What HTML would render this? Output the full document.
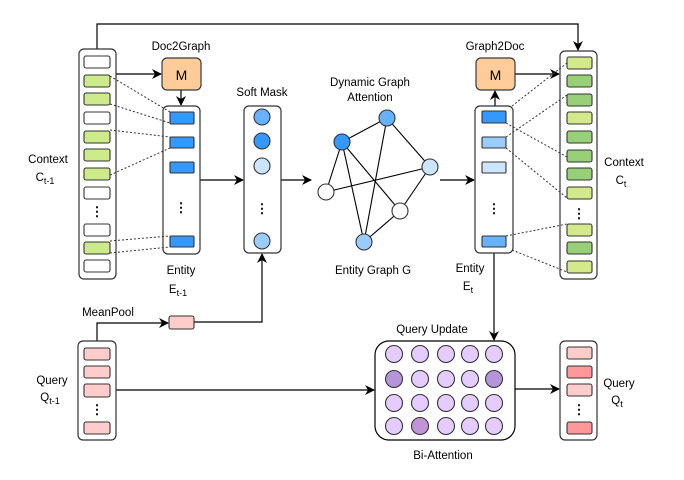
<!DOCTYPE html>
<html><head><meta charset="utf-8"><style>
html,body{margin:0;padding:0;background:#fff;}
svg{display:block;font-family:"Liberation Sans",Arial,sans-serif;}
</style></head><body>
<svg width="684" height="480" viewBox="0 0 684 480" xmlns="http://www.w3.org/2000/svg">
<defs>
<marker id="a" markerWidth="10" markerHeight="10" refX="9" refY="5" orient="auto" markerUnits="userSpaceOnUse">
<path d="M0,0 L10,5 L0,10 L3,5 Z" fill="#000"/>
</marker>
</defs>
<g fill="none" stroke="#000" stroke-width="1.2">
<polyline points="97,49 97,24 578,24 578,50" marker-end="url(#a)"/>
<line x1="110" y1="74" x2="161" y2="74" marker-end="url(#a)"/>
<line x1="181" y1="90" x2="181" y2="105" marker-end="url(#a)"/>
<line x1="200" y1="180" x2="243" y2="180" marker-end="url(#a)"/>
<line x1="281" y1="180" x2="311" y2="180" marker-end="url(#a)"/>
<line x1="440" y1="180" x2="474" y2="180" marker-end="url(#a)"/>
<line x1="495" y1="106" x2="495" y2="91" marker-end="url(#a)"/>
<line x1="515" y1="74" x2="559" y2="74" marker-end="url(#a)"/>
<polyline points="97,341 97,323 168,323" marker-end="url(#a)"/>
<polyline points="194,322 262,322 262,254" marker-end="url(#a)"/>
<line x1="116" y1="390" x2="374" y2="390" marker-end="url(#a)"/>
<line x1="494" y1="253" x2="494" y2="340" marker-end="url(#a)"/>
<line x1="515" y1="389" x2="559" y2="389" marker-end="url(#a)"/>
</g>
<rect x="79" y="49" width="37" height="230" rx="5" fill="#fff" stroke="#333" stroke-width="1.2"/>
<g stroke="#333" stroke-width="1.1">
<rect x="84" y="56" width="26" height="12" rx="2" fill="#fff"/>
<rect x="84" y="75" width="26" height="12" rx="2" fill="#cdeb8b"/>
<rect x="84" y="93" width="26" height="12" rx="2" fill="#cdeb8b"/>
<rect x="84" y="112" width="26" height="12" rx="2" fill="#fff"/>
<rect x="84" y="131" width="26" height="12" rx="2" fill="#cdeb8b"/>
<rect x="84" y="149" width="26" height="12" rx="2" fill="#cdeb8b"/>
<rect x="84" y="168" width="26" height="12" rx="2" fill="#cdeb8b"/>
<rect x="84" y="187" width="26" height="12" rx="2" fill="#fff"/>
<rect x="84" y="224" width="26" height="12" rx="2" fill="#fff"/>
<rect x="84" y="242" width="26" height="12" rx="2" fill="#cdeb8b"/>
<rect x="84" y="260" width="26" height="12" rx="2" fill="#fff"/>
</g>
<rect x="162" y="58" width="39" height="32" rx="5" fill="#ffcc99" stroke="#36393d" stroke-width="1.2"/>
<text x="181.5" y="80" font-size="14" text-anchor="middle">M</text>
<rect x="476" y="58" width="39" height="32" rx="5" fill="#ffcc99" stroke="#36393d" stroke-width="1.2"/>
<text x="495.5" y="80" font-size="14" text-anchor="middle">M</text>
<rect x="163" y="106" width="37" height="148" rx="5" fill="#fff" stroke="#333" stroke-width="1.2"/>
<g stroke="#333" stroke-width="1.1" fill="#3399ff">
<rect x="170" y="112" width="24" height="12" rx="1"/>
<rect x="170" y="137" width="24" height="11" rx="1"/>
<rect x="170" y="162" width="24" height="11" rx="1"/>
<rect x="170" y="236" width="24" height="11" rx="1"/>
</g>
<rect x="244" y="106" width="37" height="147" rx="5" fill="#fff" stroke="#333" stroke-width="1.2"/>
<g stroke="#333" stroke-width="1.1">
<circle cx="262" cy="117" r="8" fill="#66b2ff"/>
<circle cx="262" cy="141" r="8" fill="#3399ff"/>
<circle cx="262" cy="166" r="8" fill="#cce5ff"/>
<circle cx="262" cy="241" r="8" fill="#99ccff"/>
</g>
<g stroke="#000" stroke-width="1.1">
<line x1="342" y1="142" x2="387" y2="118"/>
<line x1="342" y1="142" x2="326" y2="192"/>
<line x1="342" y1="142" x2="364" y2="242"/>
<line x1="342" y1="142" x2="400" y2="211"/>
<line x1="387" y1="118" x2="364" y2="242"/>
<line x1="387" y1="118" x2="430" y2="167"/>
<line x1="326" y1="192" x2="430" y2="167"/>
<line x1="430" y1="167" x2="400" y2="211"/>
<line x1="400" y1="211" x2="364" y2="242"/>
</g>
<g stroke="#333" stroke-width="1.1">
<circle cx="342" cy="142" r="8" fill="#3399ff"/>
<circle cx="387" cy="118" r="8" fill="#66b2ff"/>
<circle cx="430" cy="167" r="8" fill="#cce5ff"/>
<circle cx="326" cy="192" r="8" fill="#fff"/>
<circle cx="400" cy="211" r="8" fill="#fff"/>
<circle cx="364" cy="242" r="8" fill="#99ccff"/>
</g>
<rect x="475" y="106" width="38" height="147" rx="5" fill="#fff" stroke="#333" stroke-width="1.2"/>
<g stroke="#333" stroke-width="1.1">
<rect x="482" y="111" width="24" height="12" rx="1" fill="#3399ff"/>
<rect x="482" y="137" width="24" height="11" rx="1" fill="#99ccff"/>
<rect x="482" y="162" width="24" height="11" rx="1" fill="#cce5ff"/>
<rect x="482" y="236" width="24" height="11" rx="1" fill="#66b2ff"/>
</g>
<rect x="560" y="51" width="37" height="228" rx="5" fill="#fff" stroke="#333" stroke-width="1.2"/>
<g stroke="#333" stroke-width="1.1">
<rect x="567" y="57" width="25" height="12" rx="2" fill="#d4ea8a"/>
<rect x="567" y="75" width="25" height="12" rx="2" fill="#97d077"/>
<rect x="567" y="94" width="25" height="12" rx="2" fill="#97d077"/>
<rect x="567" y="112" width="25" height="12" rx="2" fill="#d4ea8a"/>
<rect x="567" y="131" width="25" height="12" rx="2" fill="#97d077"/>
<rect x="567" y="150" width="25" height="12" rx="2" fill="#97d077"/>
<rect x="567" y="168" width="25" height="12" rx="2" fill="#97d077"/>
<rect x="567" y="187" width="25" height="12" rx="2" fill="#d4ea8a"/>
<rect x="567" y="224" width="25" height="12" rx="2" fill="#d4ea8a"/>
<rect x="567" y="242" width="25" height="12" rx="2" fill="#97d077"/>
<rect x="567" y="261" width="25" height="12" rx="2" fill="#d4ea8a"/>
</g>
<g stroke="#333" stroke-width="1" stroke-dasharray="2,2" fill="none">
<line x1="110" y1="76" x2="170" y2="112"/>
<line x1="110" y1="104" x2="170" y2="123"/>
<line x1="110" y1="130" x2="170" y2="137"/>
<line x1="110" y1="175" x2="170" y2="148"/>
<line x1="110" y1="241" x2="170" y2="236"/>
<line x1="110" y1="253" x2="170" y2="247"/>
<line x1="512" y1="106" x2="567" y2="63"/>
<line x1="506" y1="123" x2="567" y2="157"/>
<line x1="506" y1="137" x2="567" y2="95"/>
<line x1="506" y1="148" x2="567" y2="198"/>
<line x1="506" y1="236" x2="567" y2="224"/>
<line x1="512" y1="250" x2="567" y2="272"/>
</g>
<rect x="78" y="341" width="38" height="99" rx="5" fill="#fff" stroke="#333" stroke-width="1.2"/>
<g stroke="#333" stroke-width="1.1" fill="#ffcccc">
<rect x="84" y="348" width="26" height="12" rx="2"/>
<rect x="84" y="366" width="26" height="12" rx="2"/>
<rect x="84" y="384" width="26" height="13" rx="2"/>
<rect x="84" y="422" width="26" height="12" rx="2"/>
<rect x="169" y="316" width="25" height="13" rx="2"/>
</g>
<rect x="375" y="341" width="140" height="99" rx="14" fill="#fff" stroke="#000" stroke-width="1.2"/>
<g stroke="#333" stroke-width="1.1" fill="#e5ccff">
<circle cx="394" cy="354" r="8.5"/><circle cx="420" cy="354" r="8.5"/><circle cx="446" cy="354" r="8.5"/><circle cx="470" cy="354" r="8.5"/><circle cx="494" cy="354" r="8.5"/>
<circle cx="394" cy="379" r="8.5" fill="#b595d9"/><circle cx="420" cy="379" r="8.5"/><circle cx="446" cy="379" r="8.5"/><circle cx="470" cy="379" r="8.5"/><circle cx="494" cy="379" r="8.5" fill="#b595d9"/>
<circle cx="394" cy="403" r="8.5"/><circle cx="420" cy="403" r="8.5"/><circle cx="446" cy="403" r="8.5"/><circle cx="470" cy="403" r="8.5"/><circle cx="494" cy="403" r="8.5"/>
<circle cx="394" cy="426" r="8.5"/><circle cx="420" cy="426" r="8.5" fill="#c393d8"/><circle cx="446" cy="426" r="8.5"/><circle cx="470" cy="426" r="8.5"/><circle cx="494" cy="426" r="8.5"/>
</g>
<rect x="560" y="341" width="37" height="99" rx="5" fill="#fff" stroke="#333" stroke-width="1.2"/>
<g stroke="#333" stroke-width="1.1">
<rect x="567" y="347" width="25" height="12" rx="2" fill="#ffcccc"/>
<rect x="567" y="366" width="25" height="12" rx="2" fill="#ff9999"/>
<rect x="567" y="384" width="25" height="12" rx="2" fill="#ffcccc"/>
<rect x="567" y="422" width="25" height="12" rx="2" fill="#ff9999"/>
</g>
<g font-size="13" text-anchor="middle" font-weight="bold">
<text x="97" y="216">⋮</text>
<text x="181" y="212">⋮</text>
<text x="262" y="213">⋮</text>
<text x="494" y="213">⋮</text>
<text x="579" y="218">⋮</text>
<text x="97" y="414">⋮</text>
<text x="579" y="414">⋮</text>
</g>
<g font-size="11.5" text-anchor="middle" fill="#000">
<text x="181" y="50">Doc2Graph</text>
<text x="495" y="50">Graph2Doc</text>
<text x="262" y="96">Soft Mask</text>
<text x="370" y="86">Dynamic Graph</text>
<text x="370" y="101">Attention</text>
<text x="373" y="274">Entity Graph G</text>
<text x="181" y="274">Entity</text>
<text x="178" y="293">E<tspan font-size="9" dy="3">t-1</tspan></text>
<text x="470" y="272">Entity</text>
<text x="468" y="290">E<tspan font-size="9" dy="3">t</tspan></text>
<text x="48" y="163">Context</text>
<text x="45" y="181">C<tspan font-size="9" dy="3">t-1</tspan></text>
<text x="624" y="166">Context</text>
<text x="621" y="184">C<tspan font-size="9" dy="3">t</tspan></text>
<text x="52" y="384">Query</text>
<text x="50" y="401">Q<tspan font-size="9" dy="3">t-1</tspan></text>
<text x="619" y="387">Query</text>
<text x="617" y="404">Q<tspan font-size="9" dy="3">t</tspan></text>
<text x="108" y="316">MeanPool</text>
<text x="432" y="333">Query Update</text>
<text x="443" y="459">Bi-Attention</text>
</g>
</svg>
</body></html>
